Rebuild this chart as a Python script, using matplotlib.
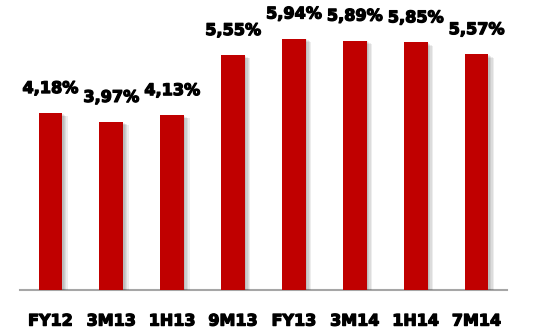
import matplotlib
matplotlib.use("Agg")
import matplotlib.pyplot as plt
import matplotlib.patheffects as pe

periods = ["FY12", "3M13", "1H13", "9M13", "FY13", "3M14", "1H14", "7M14"]
values = [4.18, 3.97, 4.13, 5.55, 5.94, 5.89, 5.85, 5.57]
labels = ["4,18%", "3,97%", "4,13%", "5,55%", "5,94%", "5,89%", "5,85%", "5,57%"]

fig = plt.figure(figsize=(5.41, 3.32), dpi=100)
ax = fig.add_axes([20 / 541, 42 / 332, 487 / 541, 290 / 332])

x = range(len(periods))
bars = ax.bar(x, values, width=0.39, color="#C00000", zorder=3)
# soft drop shadow built from a few faint offset copies
shadow = [pe.SimplePatchShadow(offset=(o, -o * 0.6), shadow_rgbFace="#000000", alpha=0.07)
          for o in (1, 2, 3, 4)]
for b in bars:
    b.set_path_effects(shadow + [pe.Normal()])

heavy = [pe.withStroke(linewidth=0.9, foreground="black")]
for xi, v, lab in zip(x, values, labels):
    ax.annotate(lab, (xi, v), xytext=(0, 17), textcoords="offset pixels",
                ha="center", va="bottom", fontsize=11.6, fontweight="bold", color="black",
                family="DejaVu Sans", path_effects=heavy)

ax.set_xlim(-0.5, len(periods) - 0.5)
ax.set_ylim(0, 6.85)
ax.set_xticks(list(x))
ax.set_xticklabels(periods, fontsize=11.5, fontweight="bold")
for t in ax.get_xticklabels():
    t.set_path_effects(heavy)
ax.tick_params(axis="x", length=0, pad=17)
ax.set_yticks([])
for s in ["top", "left", "right"]:
    ax.spines[s].set_visible(False)
ax.spines["bottom"].set_color("#A6A6A6")
ax.spines["bottom"].set_linewidth(1.5)

fig.savefig("out.png", dpi=100)
